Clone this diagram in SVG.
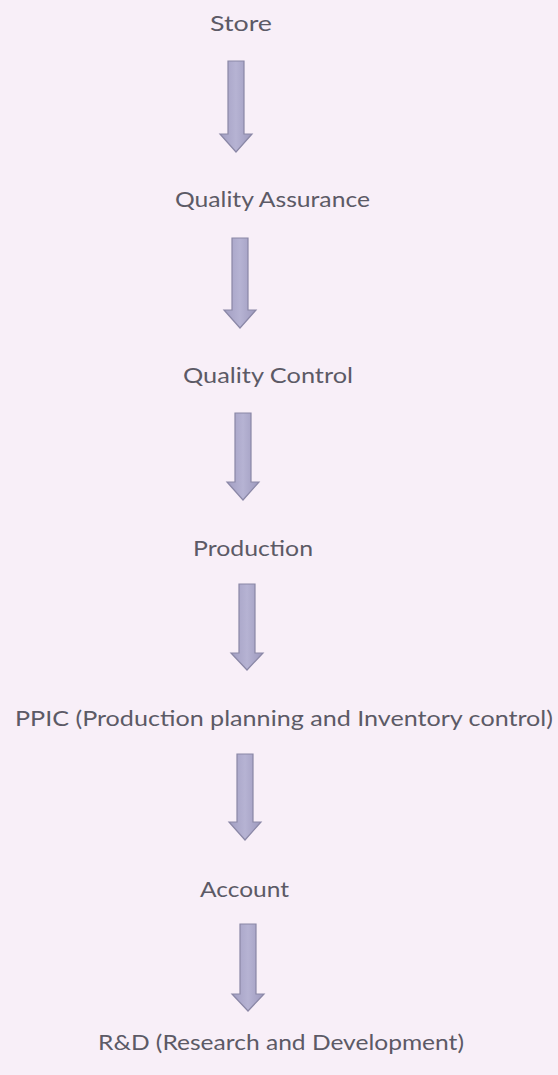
<svg xmlns="http://www.w3.org/2000/svg" width="558" height="1075" viewBox="0 0 558 1075">
<defs>
<linearGradient id="ag" x1="0" y1="0" x2="1" y2="0">
<stop offset="0" stop-color="#a29ec2"/>
<stop offset="0.5" stop-color="#b6b3d3"/>
<stop offset="1" stop-color="#9d99bd"/>
</linearGradient>
<style>
.lbl{font-family:Lato,"Open Sans","Liberation Sans",sans-serif;font-size:21px;fill:#5c5a66;text-anchor:middle}
.arr{fill:url(#ag);stroke:#8a87a6;stroke-width:1.2;stroke-linejoin:miter}
</style>
</defs>
<rect width="558" height="1075" fill="#f8eff8"/>
<g id="connectors">
<path class="arr" d="M228,61 H244 V134 H252 L236,152 L220,134 H228 Z"/>
<path class="arr" d="M232,238 H248 V310 H256 L240,328 L224,310 H232 Z"/>
<path class="arr" d="M235,413 H251 V482 H259 L243,500 L227,482 H235 Z"/>
<path class="arr" d="M239,584 H255 V653 H263 L247,670 L231,653 H239 Z"/>
<path class="arr" d="M237,754 H253 V822 H261 L245,840 L229,822 H237 Z"/>
<path class="arr" d="M240,924 H256 V994 H264 L248,1011 L232,994 H240 Z"/>
</g>
<g id="store"><text class="lbl" x="241" y="31" textLength="62" lengthAdjust="spacingAndGlyphs">Store</text></g>
<g id="qa"><text class="lbl" x="272.5" y="207" textLength="195" lengthAdjust="spacingAndGlyphs">Quality Assurance</text></g>
<g id="qc"><text class="lbl" x="268" y="383" textLength="170" lengthAdjust="spacingAndGlyphs">Quality Control</text></g>
<g id="production"><text class="lbl" x="253" y="556" textLength="120" lengthAdjust="spacingAndGlyphs">Production</text></g>
<g id="ppic"><text class="lbl" x="284" y="726" textLength="538" lengthAdjust="spacingAndGlyphs">PPIC (Production planning and Inventory control)</text></g>
<g id="account"><text class="lbl" x="244.5" y="897" textLength="89" lengthAdjust="spacingAndGlyphs">Account</text></g>
<g id="rd"><text class="lbl" x="281" y="1050" textLength="366" lengthAdjust="spacingAndGlyphs">R&amp;D (Research and Development)</text></g>
</svg>
